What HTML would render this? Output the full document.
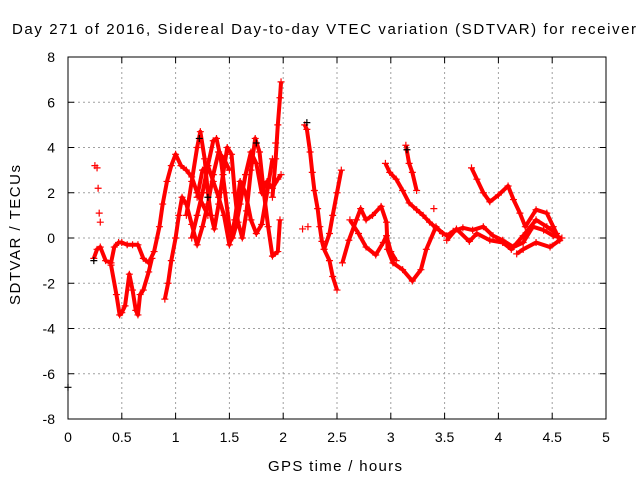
<!DOCTYPE html>
<html><head><meta charset="utf-8"><style>
html,body{margin:0;padding:0;background:#fff;width:640px;height:480px;overflow:hidden}
svg{display:block;font-family:"Liberation Sans",sans-serif}
</style></head><body>
<svg id="chart" width="640" height="480" viewBox="0 0 640 480">
<text x="12" y="34" font-size="15" textLength="648" lengthAdjust="spacing">Day 271 of 2016, Sidereal Day-to-day VTEC variation (SDTVAR) for receiver sc</text>
<text x="268" y="471" font-size="15" textLength="134" lengthAdjust="spacing">GPS time / hours</text>
<text x="0" y="0" font-size="15" textLength="140" lengthAdjust="spacing" transform="translate(20 305) rotate(-90)">SDTVAR / TECUs</text>
<g id="grid"></g><g id="ticks"></g><g id="series"></g>
<rect x="68" y="57" width="538" height="362" fill="none" stroke="#000" stroke-width="1"/>
</svg>
<script>
const xTicks=[0,0.5,1,1.5,2,2.5,3,3.5,4,4.5,5];
const xTickLabels=["0","0.5","1","1.5","2","2.5","3","3.5","4","4.5","5"];
const yTicks=[-8,-6,-4,-2,0,2,4,6,8];
const yTickLabels=["-8","-6","-4","-2","0","2","4","6","8"];
const trackA=[[0.24,-0.9],[0.27,-0.5],[0.3,-0.4],[0.35,-1.0],[0.4,-1.1],[0.43,-0.4],[0.47,-0.2],[0.5,-0.2],[0.55,-0.3],[0.6,-0.3],[0.65,-0.3],[0.7,-0.9],[0.75,-1.1],[0.8,-0.6],[0.85,0.5],[0.88,1.5],[0.92,2.5],[0.96,3.2],[1.0,3.7],[1.05,3.2],[1.1,3.0],[1.15,2.7],[1.2,2.0],[1.25,1.5],[1.3,1.0]];
const trackB=[[0.4,-1.2],[0.45,-2.5],[0.48,-3.4],[0.5,-3.3],[0.53,-3.0],[0.57,-1.6],[0.6,-2.3],[0.63,-3.2],[0.65,-3.4],[0.67,-2.5],[0.7,-2.3],[0.75,-1.5],[0.78,-0.9]];
const trackC=[[0.9,-2.7],[0.93,-2.0],[0.96,-1.0],[1.0,0.0],[1.03,1.0],[1.06,1.8],[1.1,1.5],[1.15,0.6],[1.2,-0.3],[1.25,0.5],[1.3,1.5],[1.35,2.8],[1.4,3.8],[1.45,3.5],[1.5,3.0]];
const trackD=[[1.1,1.0],[1.15,2.5],[1.2,4.0],[1.23,4.7],[1.27,3.5],[1.3,2.0],[1.33,1.0],[1.36,0.4],[1.4,1.5],[1.44,2.8],[1.48,4.0],[1.52,3.7],[1.55,2.0],[1.58,0.7],[1.62,0.0],[1.66,1.2],[1.7,3.0],[1.74,4.4],[1.78,3.8],[1.82,2.0],[1.86,0.5],[1.9,-0.8],[1.95,-0.6],[1.97,0.8]];
const trackE=[[1.15,0.0],[1.2,1.0],[1.25,2.0],[1.3,3.2],[1.35,4.3],[1.38,4.4],[1.42,3.5],[1.46,2.0],[1.5,0.5],[1.53,0.0],[1.56,0.5],[1.6,1.5],[1.65,2.8],[1.7,3.8],[1.75,3.3],[1.8,2.0],[1.85,2.5],[1.9,2.2],[1.95,2.6],[1.98,2.8]];
const trackF=[[1.2,1.8],[1.25,3.0],[1.3,3.2],[1.35,2.5],[1.4,1.8],[1.45,1.0],[1.5,-0.3],[1.55,0.8],[1.6,2.5],[1.65,2.0],[1.7,0.8],[1.75,0.2],[1.8,0.6],[1.85,2.0],[1.9,3.5]];
const trackG=[[1.9,1.8],[1.93,3.5],[1.95,5.0],[1.97,6.2],[1.98,6.9]];
const trackH=[[2.2,5.0],[2.22,4.8],[2.25,3.8],[2.27,2.9],[2.29,2.1],[2.32,1.3],[2.34,0.5],[2.36,-0.15],[2.38,-0.5],[2.43,-1.0],[2.46,-1.7],[2.5,-2.3]];
const trackI=[[2.38,-0.5],[2.43,0.2],[2.46,1.0],[2.5,2.0],[2.54,3.0]];
const trackJ=[[2.55,-1.1],[2.61,-0.1],[2.68,0.8],[2.72,1.3],[2.77,0.8],[2.83,1.0],[2.91,1.4],[2.96,0.7],[2.97,-0.5],[3.02,-1.1],[3.11,-1.4],[3.2,-1.9],[3.28,-1.4],[3.33,-0.5],[3.42,0.5],[3.48,0.2]];
const trackK=[[2.62,0.8],[2.7,0.2],[2.77,-0.4],[2.86,-0.75],[2.93,-0.2],[2.96,0.1],[3.0,-0.6],[3.05,-1.0]];
const trackL=[[2.95,3.3],[2.99,2.9],[3.05,2.6],[3.11,2.1],[3.17,1.55],[3.24,1.25],[3.3,1.0],[3.36,0.7],[3.42,0.45],[3.52,0.1],[3.58,0.3],[3.67,0.45],[3.76,0.35],[3.86,0.5],[3.95,0.1],[4.04,-0.1],[4.14,-0.4],[4.23,-0.2],[4.32,0.5],[4.42,0.35],[4.51,0.1],[4.59,0.0]];
const trackM=[[3.52,-0.1],[3.61,0.4],[3.73,-0.15],[3.8,0.2],[3.92,-0.1],[4.04,-0.2],[4.12,-0.5],[4.23,0.1],[4.35,0.8],[4.45,0.5],[4.54,0.2]];
const trackN=[[3.75,3.1],[3.8,2.6],[3.86,2.0],[3.92,1.6],[4.0,1.9],[4.09,2.3],[4.14,1.7],[4.2,1.1],[4.25,0.5],[4.35,1.25],[4.45,1.1],[4.51,0.5],[4.57,-0.1],[4.48,-0.4],[4.35,-0.2],[4.23,-0.5],[4.17,-0.7]];
const trackO=[[3.14,4.1],[3.17,3.3],[3.2,2.9],[3.24,2.1]];
const isolatedRed=[[0.25,3.2],[0.27,3.1],[0.28,2.2],[0.29,1.1],[0.3,0.7],[2.23,0.5],[2.18,0.4],[3.4,1.3],[1.93,4.2]];
const isolatedBlack=[[0.0,-6.6],[0.24,-1.0],[1.22,4.4],[1.3,1.8],[1.75,4.2],[2.22,5.1],[3.15,3.9]];
const tracks=[trackA,trackB,trackC,trackD,trackE,trackF,trackG,trackH,trackI,trackJ,trackK,trackL,trackM,trackN,trackO];
const NS="http://www.w3.org/2000/svg";
const X=v=>68+v*107.6, Y=v=>238-v*22.625;
const grid=document.getElementById('grid'),ticks=document.getElementById('ticks'),series=document.getElementById('series');
function mk(tag,attrs,parent){const e=document.createElementNS(NS,tag);for(const k in attrs)e.setAttribute(k,attrs[k]);parent.appendChild(e);return e;}
xTicks.forEach((t,i)=>{const x=X(t);
 if(i>0&&i<xTicks.length-1){const g=mk('line',{x1:x,x2:x,y1:57,y2:419,stroke:'#a0a0a0','stroke-dasharray':'2,3'},grid);
 
 }
 mk('line',{x1:x,x2:x,y1:419,y2:413,stroke:'#000'},ticks);mk('line',{x1:x,x2:x,y1:57,y2:63,stroke:'#000'},ticks);
 const l=mk('text',{x:x,y:442,'font-size':14,'text-anchor':'middle'},ticks);l.textContent=xTickLabels[i];
 
 });
yTicks.forEach((t,i)=>{const y=Y(t);
 if(i>0&&i<yTicks.length-1){const g=mk('line',{x1:68,x2:606,y1:y,y2:y,stroke:'#a0a0a0','stroke-dasharray':'2,3'},grid);
 
 }
 mk('line',{x1:68,x2:74,y1:y,y2:y,stroke:'#000'},ticks);mk('line',{x1:606,x2:600,y1:y,y2:y,stroke:'#000'},ticks);
 const l=mk('text',{x:55,y:y+5,'font-size':14,'text-anchor':'end'},ticks);l.textContent=yTickLabels[i];
 
 });
function plus(p,color){const x=X(p[0]),y=Y(p[1]);
 const e=mk('path',{d:`M${x-3.5},${y}H${x+3.5}M${x},${y-3.5}V${y+3.5}`,stroke:color,'stroke-width':1.2,fill:'none'},series);
 
 }
tracks.forEach(tr=>{
 const pl=mk('polyline',{points:tr.map(p=>X(p[0])+','+Y(p[1])).join(' '),fill:'none',stroke:'#f00','stroke-width':4,'stroke-linejoin':'round'},series);
 
 
 tr.forEach(p=>plus(p,'#f00'));});
isolatedRed.forEach(p=>plus(p,'#f00'));
isolatedBlack.forEach(p=>plus(p,'#000'));
</script>
</body></html>
